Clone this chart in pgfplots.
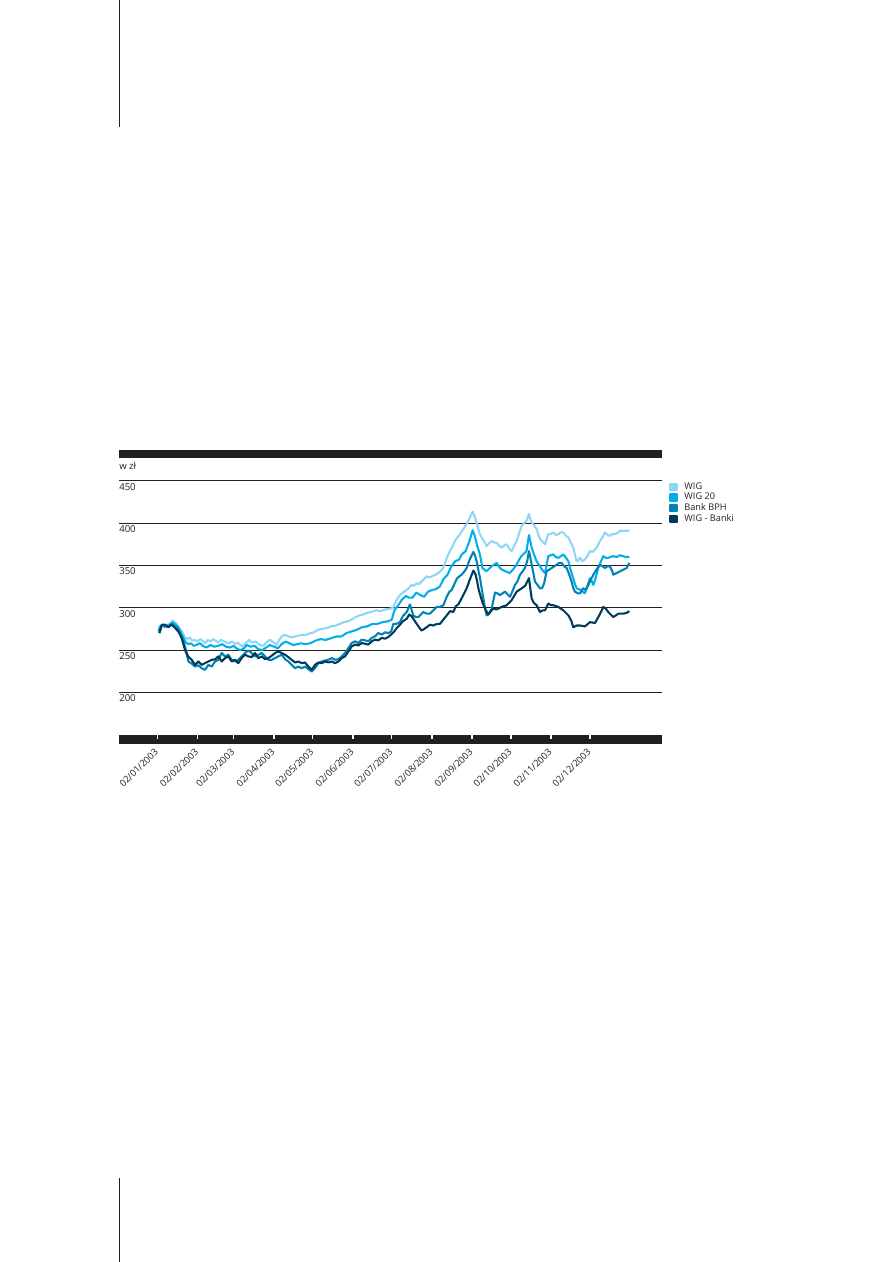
\documentclass[border=0pt]{standalone}
\usepackage{fontspec}
\setmainfont{Open Sans}
\usepackage{pgfplots}
\pgfplotsset{compat=1.18}
\definecolor{cwig}{HTML}{8ED6F6}
\definecolor{cwigt}{HTML}{00AEEA}
\definecolor{cbph}{HTML}{0083B4}
\definecolor{cbank}{HTML}{003A5A}
\definecolor{ink}{HTML}{231F20}

\pgfplotstableread{
d v
3 272
4 278
6 279
8 277
10 280
12 282
14 285
15 283
17 281
19 276
21 272
23 266
25 263
27 265
29 261
31 262
33 260
35 263
37 261
39 258
41 262
43 260
45 263
47 261
49 259
51 262
54 260
57 258
60 260
62 257
64 259
66 256
68 254
70 258
73 262
75 259
78 260
81 256
84 255
86 259
89 262
92 259
94 256
96 262
98 266
100 268
102 267
105 265
108 266
111 267
114 268
117 268
120 270
123 271
126 274
129 275
133 276
136 278
140 279
143 281
146 283
149 284
152 286
155 289
158 291
161 292
164 294
167 295
171 297
174 296
178 298
182 299
184 300
185.5 305
187 310
189.3 315
191.5 318
194.5 321
196.5 324
198.3 327
200 326
202.2 329
204 328
206 331
208 334
209.9 337
212.5 336
215 338
217 339
218.9 341
221 344
222.8 347
224 352
225.4 359
227.9 367
230 373
231.8 379
233.5 383
235.7 387
238.2 393
240.8 399
243.4 407
245.4 413.6
247.2 407
248.5 400
249.8 393
251 387
252.4 383
254.5 378
256.2 373
258 376
260.1 379
262 377
264 377
266 373
267.8 371
270 374
271.7 375
273.5 370
275.5 367
277.5 373
279.4 379
281.5 389
283.3 397
285 400
287.1 403
288.9 411
290 404
291 401
293 397
294.8 393
296 387
297.4 381
299.5 378
301.3 375
303.8 387
305.5 387
307.7 389
309.5 386
311.6 387
313.5 389
315.4 389
317.5 385
319.3 383
321.2 377
323.1 371
324.4 363
325.7 355
327 356
328.3 359
330 355
332.1 357
334 361
336 367
338 366
339.9 369
341.5 372
343.7 379
345.5 383
347.6 389
349.5 386
351.4 385
353 387
355.3 387
357.9 389
359.2 391
361.7 391
364.3 391
366.4 391
}\wig

\pgfplotstableread{
d v
3 272
4 278
6 279
8 277
10 279
12 280
14 283
16 280
18 277
20 271
22 265
24 259
26 257
28 258
30 255
32 256
35 258
37 255
40 253
43 256
46 254
49 255
52 257
55 254
58 253
61 255
63 252
66 250
69 252
71 256
74 254
77 255
80 251
83 250
86 253
89 256
92 254
95 252
98 257
101 260
104 258
107 256
110 257
113 258
116 257
120 258
124 261
128 263
132 262
136 264
140 266
144 266
148 270
152 272
156 274
160 277
164 278
168 281
172 281
176 283
180 284
183 286
185 297
188 303
191 310
194 314
196 312
199 312
202 318
205 315
208 313
211 319
214 321
217 322
220 325
223 334
226 339
229 349
232 355
235 357
237 363
240 367
243 379
245.4 391.6
247 385
249 373
251 363
253 347
256 343
258 346
260 349
262 351
264 353
266 348
268 345
271 343
274 341
276.5 345
279 350
281 356
283 361
285 364
287 367
288.9 386
290 378
291 371
293 362
294.8 355
297.4 349
299.5 344
301.3 341
303.8 361
305.5 362
307.7 363
309.5 360
311.6 359
313.5 361
315.4 363
317.5 359
319.3 355
321 345
323 335
324.4 328
325.7 323
327.5 322
329 321
330.5 319
332 317
334 326
336 335
337.5 331
338.6 327
340.5 336
342.4 347
344.5 355
346.3 361
348.2 359
350 359
352 360
354 361
356.5 360
359 362
361.5 361
363.5 360
366.4 360
}\wigtw

\pgfplotstableread{
d v
3.6 270
5.4 279
7.9 279
10.5 278
13.1 281
15.7 278
18.2 275
20.8 266
23.4 254
26 236.5
28.5 234
31.1 230.5
33.7 232
36.2 228.6
38.8 226.6
41.4 232.5
44 230.5
46.5 236.5
49.1 238.5
51.7 246.5
54.3 242.5
56.8 244.5
59.4 238.5
62 236.5
64.5 238.5
67.1 242.5
69.7 246.5
72.3 249.6
74.8 246.5
77.4 242.5
80 244.5
82.6 246.5
85.1 242.5
87.7 238.5
90.3 238.5
92.9 240.5
95.4 242.5
98 244.5
100.6 239.3
103.1 236.5
105.7 232.5
108.3 228.6
110.9 230.5
113.4 228.6
116 230.5
118.6 227.4
121.2 224.6
123.7 228.6
126.3 234.5
128.9 236.5
131.5 237.7
134 238.5
136.6 240.5
139.2 238.5
141.8 239.3
144.3 242.5
146.9 246.5
149.5 252.4
152.1 258.3
154.6 260.3
157.2 258.3
159.8 262.3
162.3 261.5
164.9 260.3
167.5 264.3
170.1 266.3
172.6 270.2
175.2 268.3
177.8 271
180.4 270
182.5 272
184.2 281
186.5 281
189.3 283
191.5 290
194.5 295
197 304
199.6 291
201.5 289
203.5 289
205.5 292
207.4 295
210 293
212.5 293
215 297
217.7 301
220.2 301
222.8 303
225.4 313
227.5 319
229.2 321
231 327
233.1 334
235 337
236.9 339
239 343
240.8 347
242 352
243.4 358
246 366
247.2 362
248.5 355
250 343
251.1 335
252.5 322
253.7 311
255 299
256.2 291
258 293
260.1 299
262.7 318
264.5 317
266.5 315
268.5 317
270.4 319
272.3 316
274.2 313
276 319
278.1 327
280 331
282 339
284 343
285.8 347
287.5 355
288.9 367
290 359
291 351
292.3 341
293.5 331
295.5 327
297.4 323
299 323
300.6 329
302.5 343
304.5 345
306.4 347
308.5 349
310.3 351
312.2 353
314.1 353
316 349
318 347
320 339
321.8 331
323.1 323
324.4 319
326.5 317
328.3 317
330.8 323
332.7 321
334.7 327
336.6 333
338.6 339
341 345
343.7 351
345.6 349
347.6 347
349.5 349
351.4 349
353 344
354 339
356.5 341
359.2 343
361.7 345
364.3 347
366.4 353
}\bph

\pgfplotstableread{
d v
3.6 270
5.4 280
7.9 280
10.5 277
13.1 280
15.7 276
18.2 272
20.8 264
23.4 250
26 242
28.5 238.5
31.1 232.5
33.7 236.5
36.2 232.5
38.8 234.5
41.4 236.5
44 238.5
46.5 239
49.1 242.5
51.7 236.5
54.3 240.5
56.8 242.5
59.4 236.5
62 238.5
64.5 234.5
67.1 240.5
69.7 244.5
72.3 242.5
74.8 241.7
77.4 246.5
80 240.5
82.6 242.5
85.1 239.3
87.7 240.5
90.3 243.3
92.9 246.5
95.4 248.4
98 246.5
100.6 244.5
103.1 241.7
105.7 238.5
108.3 235.3
110.9 236.5
113.4 234.5
116 235.3
118.6 230.5
121.2 226.6
123.7 232.5
126.3 235.3
128.9 234.5
131.5 236.5
134 235.3
136.6 236.5
139.2 234.5
141.8 236.5
144.3 240.5
146.9 242.5
149.5 248.4
152.1 254.4
154.6 256.4
157.2 255.5
159.8 258.3
162.3 257.5
164.9 256.4
167.5 260.3
170.1 262.3
172.6 261.5
175.2 264.3
177.8 263.5
180.4 265.5
184.2 270.8
186.8 276
189.3 280
191.5 284
194.5 287
196.5 292
198.3 290
200.5 285
202.2 281
204.5 276
206 273
209 276
212.5 280
215 279
218 281
220.2 281
222.8 286
225.4 291
228 296
230.5 295
232.5 302
234.4 304
236.5 310
238.2 315
240.8 323
243.4 334
246 344
247.5 340
248.5 334
250 322
251.1 316
253 306
255 299
257.5 292
259.5 296
261.4 299
264 298
267.8 301
271.7 303
275.5 309
279.4 319
283.3 323
286 326
288.9 335
290 322
291 311
292.5 306
294.8 303
297.4 295
299.5 297
301.3 297
303.8 305
306 303
307.7 303
311.6 301
315.4 297
319.3 291
321.5 285
323.1 277
325.7 279
328.3 279
332.1 278
336 283
339.9 282
342.4 289
344.5 295
346.3 301
348.2 299
350.1 295
354 289
357.9 293
361.7 293
364.3 294
366.4 296
}\bank

\begin{document}
\begin{tikzpicture}[x=1pt,y=1pt]
\useasboundingbox (0,0) rectangle (669.75,-946.5);
\draw[ink, line width=1pt] (89.5,0) -- (89.5,-95.6);
\draw[ink, line width=1pt] (89.5,-883.5) -- (89.5,-946.5);
\begin{axis}[
  at={(89.25pt,-343.5pt)}, anchor=north west,
  width=407.25pt, height=207.5pt, scale only axis,
  xmin=-27.6, xmax=391.6, ymin=150, ymax=477,
  clip=false,
  axis line style={draw=none},
  xtick={2,33,61,92,122,153,183,214,245,275,306,336},
  xticklabels={02/01/2003,02/02/2003,02/03/2003,02/04/2003,02/05/2003,02/06/2003,02/07/2003,02/08/2003,02/09/2003,02/10/2003,02/11/2003,02/12/2003},
  ytick={200,250,300,350,400,450},
  tick style={draw=none},
  ymajorgrids,
  grid style={ink, line width=0.8pt},
  /pgf/number format/assume math mode=true,
  yticklabel style={anchor=north west, inner sep=0pt, yshift=-1.6pt, font=\fontsize{7.2}{8}\selectfont, text=ink},
  xticklabel style={yshift=-11.6pt, xshift=-0.6pt, rotate=45, anchor=east, inner sep=0pt, font=\fontsize{7}{8}\selectfont, text=ink},
  legend style={at={(1.0129,0.915)}, anchor=north west, draw=none, fill=none, inner sep=0pt, outer sep=0pt,
    font=\fontsize{6.9}{8}\selectfont, text=ink, row sep=0pt, column sep=4.5pt,
    nodes={inner sep=0pt, minimum height=8pt}},
  legend cell align=left,
  legend image code/.code={\fill[#1] (0pt,-2.25pt) rectangle (5.5pt,2.25pt);},
  every axis plot/.append style={line width=1.55pt, line join=round},
]
\fill[ink] (rel axis cs:0,1) rectangle ([yshift=6pt]rel axis cs:1,1);
\fill[ink] ([yshift=-6.75pt]rel axis cs:0,0) rectangle (rel axis cs:1,0);
\pgfplotsinvokeforeach{2,33,61,92,122,153,183,214,245,275,306,336}{
  \draw[white, line width=1pt] (axis cs:#1,150) -- ([yshift=-3pt]axis cs:#1,150);
}
\node[anchor=north west, inner sep=0pt, font=\fontsize{7.2}{8}\selectfont, text=ink] at ([yshift=-2.8pt]rel axis cs:0,1) {w zł};
\addplot[cwig] table[x=d,y=v] {\wig};
\addlegendentry{WIG}
\addplot[cwigt] table[x=d,y=v] {\wigtw};
\addlegendentry{WIG 20}
\addplot[cbph] table[x=d,y=v] {\bph};
\addlegendentry{Bank BPH}
\addplot[cbank] table[x=d,y=v] {\bank};
\addlegendentry{WIG - Banki}
\end{axis}
\end{tikzpicture}
\end{document}
